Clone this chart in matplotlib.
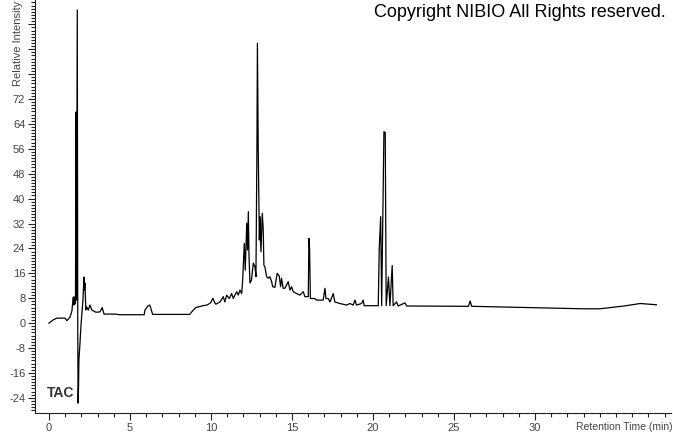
import matplotlib
matplotlib.use('Agg')
import matplotlib.pyplot as plt
from matplotlib.ticker import MultipleLocator, FuncFormatter

plt.rcParams['font.family'] = ['Liberation Sans', 'DejaVu Sans']

# retention time (min) and relative intensity
time = [0.00, 0.25, 0.49, 0.99, 1.11, 1.30, 1.42, 1.48, 1.51, 1.54, 1.57, 1.60, 1.64,
        1.67, 1.70, 1.75, 1.78, 1.80, 1.83, 1.85, 1.91, 1.98, 2.04, 2.10, 2.16, 2.19,
        2.22, 2.28, 2.33, 2.43, 2.53, 2.65, 2.90, 3.15, 3.29, 3.40, 4.07, 4.38, 5.88,
        5.93, 6.11, 6.23, 6.40, 8.70, 8.81, 9.07, 9.51, 9.75, 9.98, 10.12, 10.25, 10.31,
        10.56, 10.76, 10.86, 10.97, 11.13, 11.28, 11.38, 11.48, 11.59, 11.69, 11.79,
        11.90, 11.96, 12.06, 12.12, 12.21, 12.26, 12.31, 12.35, 12.41, 12.50, 12.62,
        12.72, 12.78, 12.84, 12.87, 12.92, 12.99, 13.02, 13.09, 13.17, 13.23, 13.27,
        13.33, 13.44, 13.54, 13.64, 13.75, 13.81, 13.95, 14.09, 14.22, 14.30, 14.36,
        14.46, 14.57, 14.77, 14.88, 14.98, 15.08, 15.29, 15.49, 15.70, 15.80, 16.01,
        16.05, 16.09, 16.14, 16.22, 16.42, 16.52, 16.93, 17.04, 17.10, 17.24, 17.35, 17.55,
        17.65, 17.96, 18.38, 18.58, 18.78, 18.89, 18.99, 19.30, 19.40, 19.46, 20.33,
        20.39, 20.48, 20.54, 20.68, 20.76, 20.82, 20.96, 21.05, 21.19, 21.25, 21.46,
        21.56, 21.98, 22.08, 25.90, 26.00, 26.10, 27.00, 30.00, 33.00, 34.00, 35.50,
        36.50, 37.50]
intensity = [0.0, 1.0, 1.6, 1.6, 0.8, 1.9, 3.9, 7.4, 8.4, 5.8, 8.4, 6.1, 7.4,
             67.8, 7.4, 100.6, -2.2, -25.7, -19.9, -11.9, -7.1, -0.6, 3.5, 7.4, 14.8, 10.6,
             12.9, 4.2, 5.2, 4.2, 5.8, 4.2, 3.5, 3.6, 5.0, 2.9, 2.9, 2.7, 2.7,
             4.2, 5.5, 5.8, 2.8, 2.8, 3.6, 5.0, 5.6, 5.8, 6.5, 8.0, 6.4, 6.1,
             6.8, 8.5, 6.8, 9.0, 7.9, 9.5, 7.9, 9.0, 10.1, 9.0, 10.6,
             9.5, 13.8, 25.6, 17.0, 32.1, 23.5, 35.8, 21.9, 12.9, 13.8, 19.3,
             18.1, 14.9, 56.3, 89.9, 56.2, 26.7, 34.2, 22.9, 35.3, 29.9, 18.6,
             18.1, 14.9, 14.4, 14.9, 13.3, 11.7, 11.5, 16.0, 15.1, 11.7, 14.4,
             11.2, 11.2, 13.3, 10.6, 11.7, 10.1, 9.5, 9.0, 10.1, 8.5, 8.5,
             27.2, 24.0, 8.0, 7.9, 7.9, 7.4, 7.4, 11.2, 7.9, 7.9, 6.8, 9.5,
             6.8, 6.3, 5.8, 6.3, 5.8, 7.4, 5.8, 6.3, 7.4, 5.6, 5.6,
             24.0, 34.2, 5.6, 61.5, 61.2, 5.6, 14.8, 5.6, 18.5, 5.6, 6.8,
             5.5, 6.5, 5.5, 5.4, 7.1, 5.4, 5.3, 5.0, 4.6, 4.6, 5.5,
             6.3, 5.9]

x_labelled = [0, 5, 10, 15, 20, 25, 30]

fig = plt.figure(figsize=(6.73, 4.33), dpi=100)
ax = fig.add_axes([0.052, 0.046, 0.945, 0.954])
ax.plot(time, intensity, color='black', lw=0.9)

ax.set_xlim(-0.86, 38.4)
ax.set_ylim(-28.9, 103.8)

ax.spines['top'].set_visible(False)
ax.spines['right'].set_visible(False)
for s in ['left', 'bottom']:
    ax.spines[s].set_color('#222222')
    ax.spines[s].set_linewidth(0.8)

ax.set_xticks(x_labelled)
ax.xaxis.set_minor_locator(MultipleLocator(1))
ax.set_yticks(range(-24, 104, 8))
ax.yaxis.set_minor_locator(MultipleLocator(1))
ax.yaxis.set_major_formatter(FuncFormatter(lambda v, p: '%d' % v if v <= 72 else ''))
ax.tick_params(which='major', length=5, width=0.8, color='#222222',
               labelsize=8, labelcolor='#444444', pad=2)
ax.tick_params(which='minor', length=3, width=0.8, color='#222222')

fig.text(18 / 673, 0.998, 'Relative Intensity', rotation=90, ha='center',
         va='top', fontsize=8, color='#444444')
fig.text(576 / 673, 1 - 427 / 433, 'Retention Time (min)', ha='left', va='center',
         fontsize=7.5, color='#444444')
fig.text(666 / 673, 1 - 4 / 433, 'Copyright NIBIO All Rights reserved.', ha='right',
         va='top', fontsize=13, color='black')
ax.text(47 / 673, 1 - 393 / 433, 'TAC', transform=fig.transFigure, ha='left',
        va='center', fontsize=10, fontweight='bold', color='#333333')

fig.savefig('out.png', dpi=100)
